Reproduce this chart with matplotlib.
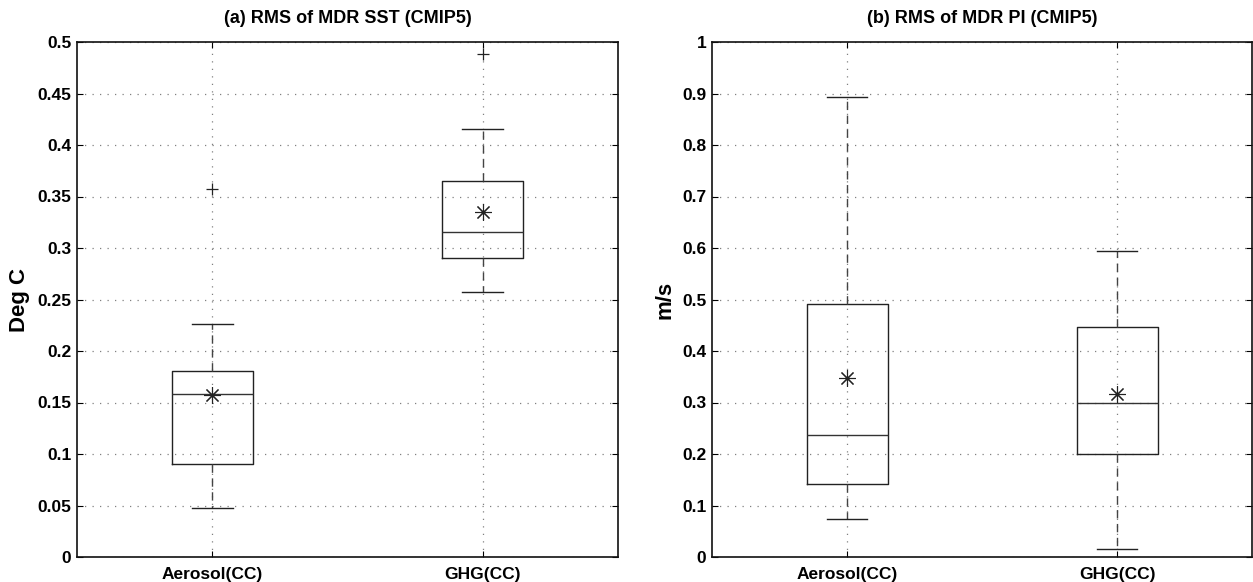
import matplotlib
matplotlib.use("Agg")
import matplotlib.pyplot as plt

plt.rcParams['font.family'] = ['Liberation Sans', 'DejaVu Sans']

categories = ["Aerosol(CC)", "GHG(CC)"]

# Panel (a): RMS of MDR SST
sst_q1 = [0.090, 0.290]
sst_med = [0.158, 0.316]
sst_q3 = [0.181, 0.365]
sst_whislo = [0.048, 0.257]
sst_whishi = [0.226, 0.416]
sst_mean = [0.157, 0.335]
sst_fliers = [[0.357], [0.488]]

# Panel (b): RMS of MDR PI
pi_q1 = [0.142, 0.200]
pi_med = [0.236, 0.300]
pi_q3 = [0.492, 0.447]
pi_whislo = [0.073, 0.015]
pi_whishi = [0.894, 0.594]
pi_mean = [0.348, 0.316]
pi_fliers = [[], []]

sst_yticks = [0, 0.05, 0.1, 0.15, 0.2, 0.25, 0.3, 0.35, 0.4, 0.45, 0.5]
sst_yticklabels = ["0", "0.05", "0.1", "0.15", "0.2", "0.25", "0.3", "0.35", "0.4", "0.45", "0.5"]
pi_yticks = [0, 0.1, 0.2, 0.3, 0.4, 0.5, 0.6, 0.7, 0.8, 0.9, 1.0]
pi_yticklabels = ["0", "0.1", "0.2", "0.3", "0.4", "0.5", "0.6", "0.7", "0.8", "0.9", "1"]

fig = plt.figure(figsize=(12.53, 5.82), dpi=100)
W, H = 1253, 582
axA = fig.add_axes([77 / W, (H - 557) / H, 541 / W, 515 / H])
axB = fig.add_axes([712 / W, (H - 557) / H, 540 / W, 515 / H])


def build_stats(q1, med, q3, lo, hi, mean, fliers):
    out = []
    for i in range(len(q1)):
        out.append(dict(q1=q1[i], med=med[i], q3=q3[i], whislo=lo[i], whishi=hi[i],
                        mean=mean[i], fliers=fliers[i], label=categories[i]))
    return out


def draw(ax, stats, yticks, yticklabels, ylim, title, ylabel):
    ax.set_axisbelow(True)
    ax.grid(True, linestyle=(0, (1, 5)), color='#808080', linewidth=0.9)
    ax.bxp(stats, positions=[1, 2], widths=0.3, showmeans=True, showfliers=True,
           boxprops=dict(color='#222222', linewidth=1.0),
           medianprops=dict(color='#333333', linewidth=1.0),
           whiskerprops=dict(color='#444444', linewidth=1.0, linestyle=(0, (6, 4))),
           capprops=dict(color='#222222', linewidth=1.0),
           capwidths=0.15,
           meanprops=dict(marker=(8, 2, 0), markersize=12, markeredgecolor='#222222',
                          markerfacecolor='none', markeredgewidth=0.8, linestyle='none'),
           flierprops=dict(marker='+', markersize=9, markeredgecolor='#222222',
                           markeredgewidth=0.9, linestyle='none'))
    ax.set_xlim(0.5, 2.5)
    ax.set_ylim(*ylim)
    ax.set_yticks(yticks)
    ax.set_yticklabels(yticklabels)
    ax.set_xticks([1, 2])
    ax.set_xticklabels(categories)
    ax.tick_params(direction='in', length=4, width=0.8, top=True, right=True,
                   labelsize=12.5)
    ax.tick_params(axis='x', pad=7)
    ax.tick_params(axis='y', pad=4)
    for lab in ax.get_xticklabels() + ax.get_yticklabels():
        lab.set_fontweight('bold')
    for s in ax.spines.values():
        s.set_linewidth(1.2)
        s.set_color('#111111')
    ax.set_title(title, fontsize=13, fontweight='bold', pad=14)
    ax.set_ylabel(ylabel, fontsize=16, fontweight='bold', labelpad=5)


draw(axA, build_stats(sst_q1, sst_med, sst_q3, sst_whislo, sst_whishi, sst_mean, sst_fliers),
     sst_yticks, sst_yticklabels, (0, 0.5), "(a) RMS of MDR SST (CMIP5)", "Deg C")
draw(axB, build_stats(pi_q1, pi_med, pi_q3, pi_whislo, pi_whishi, pi_mean, pi_fliers),
     pi_yticks, pi_yticklabels, (0, 1.0), "(b) RMS of MDR PI (CMIP5)", "m/s")

fig.savefig("out.png", dpi=100)
